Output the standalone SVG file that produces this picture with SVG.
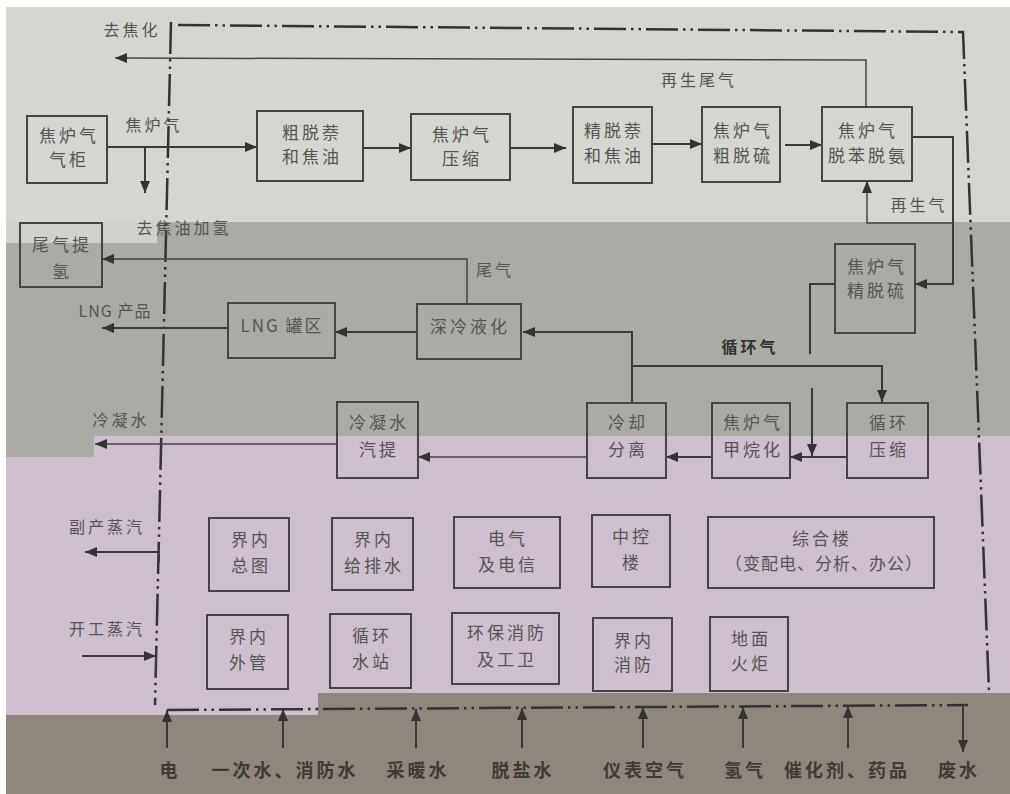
<svg xmlns="http://www.w3.org/2000/svg" width="1010" height="794" viewBox="0 0 1010 794">
<style>
.bx{fill:none;stroke:#444;stroke-width:2}
.t{font-family:"Noto Sans CJK SC","Noto Sans",sans-serif;font-size:17px;fill:#555;text-anchor:middle;letter-spacing:3px}
.lb{font-family:"Noto Sans CJK SC","Noto Sans",sans-serif;font-size:16px;fill:#555;text-anchor:middle;letter-spacing:3px}
.bl{font-family:"Noto Sans CJK SC","Noto Sans",sans-serif;font-size:18px;fill:#3e3a36;text-anchor:middle;letter-spacing:3px;font-weight:bold}
.ln{fill:none;stroke:#3a3a3a;stroke-width:2}
.thin{fill:none;stroke:#444;stroke-width:1.5}
.fr{fill:none;stroke:#333;stroke-width:2.5;stroke-dasharray:32 5 2.5 5 2.5 5}
</style>
<defs>
<marker id="ah" markerUnits="userSpaceOnUse" markerWidth="12" markerHeight="10" refX="12" refY="5" orient="auto">
<path d="M0,0 L12,5 L0,10 z" fill="#333"/>
</marker>
</defs>
<g id="background">
<rect x="0" y="0" width="1010" height="794" fill="#ffffff"/>
<rect x="6" y="7" width="1004" height="216" fill="#d5d6d0"/>
<rect x="6" y="222" width="1004" height="215" fill="#a9aba4"/>
<rect x="6" y="222" width="151" height="21" fill="#d0d1cb"/>
<rect x="6" y="436" width="1004" height="280" fill="#cdbfcd"/>
<rect x="6" y="436" width="88" height="21" fill="#a9aba4"/>
<polygon points="6,715 318,715 318,693 1010,693 1010,794 6,794" fill="#8f877d"/>
</g>
<g id="frame">
<path class="fr" d="M171,22 L155,705"/>
<path class="fr" d="M178,25 L963,32 L989,692"/>
<path class="fr" d="M167,710 L968,705"/>
</g>
<g id="connectors">
<path class="ln" d="M107,147 L257,147" marker-end="url(#ah)"/>
<path class="ln" d="M145,147 L145,193" marker-end="url(#ah)"/>
<path class="ln" d="M363,148 L411,148" marker-end="url(#ah)"/>
<path class="ln" d="M510,148 L566,148" marker-end="url(#ah)"/>
<path class="ln" d="M652,144 L702,144" marker-end="url(#ah)"/>
<path class="ln" d="M785,145 L822,145" marker-end="url(#ah)"/>
<path class="thin" d="M866,107 L866,60 L115,58" marker-end="url(#ah)"/>
<path class="ln" d="M912,137 L953,137 L953,284 L915,284" marker-end="url(#ah)"/>
<path class="thin" d="M953,223 L867,223 L867,181" marker-end="url(#ah)"/>
<path class="ln" d="M835,284 L810,284 L810,354"/>
<path class="ln" d="M812,388 L812,456" marker-end="url(#ah)"/>
<path class="ln" d="M632,403 L632,332 L523,332" marker-end="url(#ah)"/>
<path class="ln" d="M632,366 L882,366 L882,402" marker-end="url(#ah)"/>
<path class="ln" d="M847,457 L790,457" marker-end="url(#ah)"/>
<path class="ln" d="M712,457 L666,457" marker-end="url(#ah)"/>
<path class="thin" d="M587,457 L418,457" marker-end="url(#ah)"/>
<path class="thin" d="M337,444 L95,444" marker-end="url(#ah)"/>
<path class="thin" d="M467,304 L467,259 L102,259" marker-end="url(#ah)"/>
<path class="ln" d="M417,332 L335,332" marker-end="url(#ah)"/>
<path class="ln" d="M228,328 L102,328" marker-end="url(#ah)"/>
<path class="ln" d="M159,545 L159,562"/>
<path class="ln" d="M159,552 L85,552" marker-end="url(#ah)"/>
<path class="ln" d="M156,648 L156,672"/>
<path class="ln" d="M82,656 L156,656" marker-end="url(#ah)"/>
<path class="ln" d="M167,748 L167,710" marker-end="url(#ah)"/>
<path class="ln" d="M283,748 L283,709" marker-end="url(#ah)"/>
<path class="ln" d="M416,748 L416,709" marker-end="url(#ah)"/>
<path class="ln" d="M522,748 L522,708" marker-end="url(#ah)"/>
<path class="ln" d="M643,748 L643,707" marker-end="url(#ah)"/>
<path class="ln" d="M743,748 L743,707" marker-end="url(#ah)"/>
<path class="ln" d="M848,748 L848,706" marker-end="url(#ah)"/>
<path class="ln" d="M963,705 L963,752" marker-end="url(#ah)"/>
</g>
<g id="labels">
<text class="lb" x="132" y="36">去焦化</text>
<text class="lb" x="154" y="131">焦炉气</text>
<text class="lb" x="184" y="234">去焦油加氢</text>
<text class="lb" x="699" y="86">再生尾气</text>
<text class="lb" x="919" y="211">再生气</text>
<text class="lb" x="495" y="276">尾气</text>
<text class="lb" x="115" y="317" style="letter-spacing:1px">LNG 产品</text>
<text class="lb" x="750" y="353" style="font-weight:bold;fill:#333">循环气</text>
<text class="lb" x="121" y="426">冷凝水</text>
<text class="lb" x="107" y="533">副产蒸汽</text>
<text class="lb" x="107" y="635">开工蒸汽</text>
<text class="bl" x="170" y="777">电</text>
<text class="bl" x="285" y="777">一次水、消防水</text>
<text class="bl" x="418" y="777">采暖水</text>
<text class="bl" x="523" y="777">脱盐水</text>
<text class="bl" x="645" y="777">仪表空气</text>
<text class="bl" x="745" y="777">氢气</text>
<text class="bl" x="847" y="777">催化剂、药品</text>
<text class="bl" x="959" y="777">废水</text>
</g>
<g id="n1"><rect class="bx" x="27" y="116" width="80" height="67"/><text class="t" x="69" y="142">焦炉气</text><text class="t" x="69" y="166">气柜</text></g>
<g id="n2"><rect class="bx" x="257" y="111" width="106" height="70"/><text class="t" x="312" y="139">粗脱萘</text><text class="t" x="312" y="163">和焦油</text></g>
<g id="n3"><rect class="bx" x="411" y="114" width="99" height="66"/><text class="t" x="462" y="141">焦炉气</text><text class="t" x="462" y="165">压缩</text></g>
<g id="n4"><rect class="bx" x="573" y="107" width="79" height="76"/><text class="t" x="614" y="137">精脱萘</text><text class="t" x="614" y="162">和焦油</text></g>
<g id="n5"><rect class="bx" x="702" y="107" width="78" height="75"/><text class="t" x="743" y="137">焦炉气</text><text class="t" x="743" y="162">粗脱硫</text></g>
<g id="n6"><rect class="bx" x="822" y="107" width="90" height="74"/><text class="t" x="868" y="137">焦炉气</text><text class="t" x="868" y="162">脱苯脱氨</text></g>
<g id="n7"><rect class="bx" x="835" y="244" width="80" height="89"/><text class="t" x="877" y="273">焦炉气</text><text class="t" x="877" y="297">精脱硫</text></g>
<g id="n8"><rect class="bx" x="20" y="223" width="82" height="64"/><text class="t" x="62" y="251">尾气提</text><text class="t" x="62" y="278">氢</text></g>
<g id="n9"><rect class="bx" x="228" y="303" width="107" height="55"/><text class="t" x="282" y="332" style="letter-spacing:2px">LNG 罐区</text></g>
<g id="n10"><rect class="bx" x="417" y="304" width="104" height="55"/><text class="t" x="470" y="333">深冷液化</text></g>
<g id="n11"><rect class="bx" x="337" y="402" width="81" height="76"/><text class="t" x="379" y="429">冷凝水</text><text class="t" x="379" y="456">汽提</text></g>
<g id="n12"><rect class="bx" x="587" y="403" width="79" height="75"/><text class="t" x="628" y="429">冷却</text><text class="t" x="628" y="456">分离</text></g>
<g id="n13"><rect class="bx" x="712" y="403" width="78" height="75"/><text class="t" x="753" y="429">焦炉气</text><text class="t" x="753" y="456">甲烷化</text></g>
<g id="n14"><rect class="bx" x="847" y="403" width="81" height="75"/><text class="t" x="889" y="429">循环</text><text class="t" x="889" y="456">压缩</text></g>
<g id="u1"><rect class="bx" x="209" y="518" width="80" height="73"/><text class="t" x="251" y="546">界内</text><text class="t" x="251" y="572">总图</text></g>
<g id="u2"><rect class="bx" x="332" y="518" width="81" height="72"/><text class="t" x="374" y="546">界内</text><text class="t" x="374" y="572">给排水</text></g>
<g id="u3"><rect class="bx" x="454" y="517" width="106" height="71"/><text class="t" x="508" y="545">电气</text><text class="t" x="508" y="571">及电信</text></g>
<g id="u4"><rect class="bx" x="592" y="515" width="78" height="72"/><text class="t" x="632" y="543">中控</text><text class="t" x="632" y="569">楼</text></g>
<g id="u5"><rect class="bx" x="708" y="517" width="226" height="71"/><text class="t" x="822" y="545">综合楼</text><text class="t" x="824" y="570" style="letter-spacing:1px">（变配电、分析、办公）</text></g>
<g id="u6"><rect class="bx" x="207" y="615" width="81" height="74"/><text class="t" x="249" y="643">界内</text><text class="t" x="249" y="669">外管</text></g>
<g id="u7"><rect class="bx" x="330" y="614" width="81" height="74"/><text class="t" x="372" y="642">循环</text><text class="t" x="372" y="668">水站</text></g>
<g id="u8"><rect class="bx" x="452" y="613" width="107" height="71"/><text class="t" x="507" y="639">环保消防</text><text class="t" x="507" y="666">及工卫</text></g>
<g id="u9"><rect class="bx" x="593" y="618" width="79" height="73"/><text class="t" x="634" y="647">界内</text><text class="t" x="634" y="671">消防</text></g>
<g id="u10"><rect class="bx" x="710" y="617" width="78" height="74"/><text class="t" x="751" y="645">地面</text><text class="t" x="751" y="670">火炬</text></g>
</svg>
